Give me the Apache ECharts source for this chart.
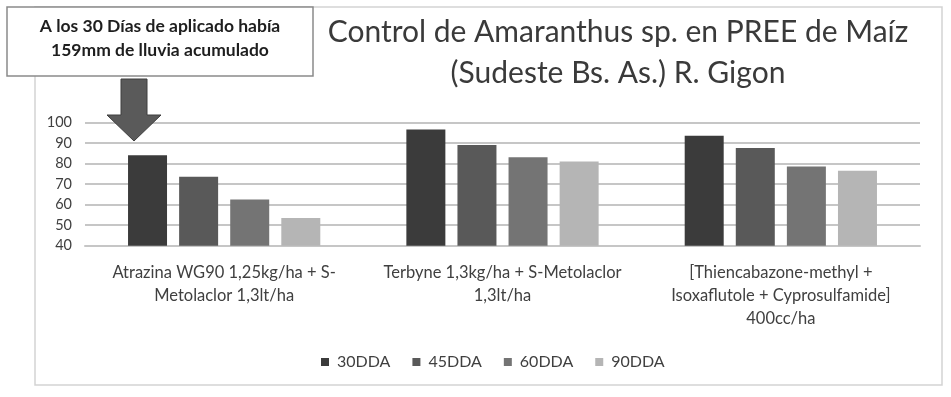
<!DOCTYPE html>
<html>
<head>
<meta charset="utf-8">
<script src="https://cdn.jsdelivr.net/npm/echarts@6/dist/echarts.min.js"></script>
<style>
html,body{margin:0;padding:0;background:#fff;}
#chart{width:951px;height:397px;}
</style>
</head>
<body>
<div id="chart"></div>
<script>
const categories = [
  'Atrazina WG90 1,25kg/ha + S-\nMetolaclor 1,3lt/ha',
  'Terbyne 1,3kg/ha + S-Metolaclor\n1,3lt/ha',
  '[Thiencabazone-methyl +\nIsoxaflutole + Cyprosulfamide]\n400cc/ha'
];
const seriesNames = ['30DDA', '45DDA', '60DDA', '90DDA'];
const dda30 = [84, 96.5, 93.5];
const dda45 = [73.5, 89, 87.5];
const dda60 = [62.5, 83, 78.5];
const dda90 = [53.5, 81, 76.5];
const yTicks = [40, 50, 60, 70, 80, 90, 100];
const titleText = 'Control de Amaranthus sp. en PREE de Maíz\n(Sudeste Bs. As.) R. Gigon';
const noteText = 'A los 30 Días de aplicado había\n159mm de lluvia acumulado';

const colors = ['#3b3b3b', '#595959', '#747474', '#b5b5b5'];
const values = [dda30, dda45, dda60, dda90];
const FONT = 'Lato';

const chart = echarts.init(document.getElementById('chart'));
chart.setOption({
  animation: false,
  backgroundColor: '#ffffff',
  grid: { left: 85, right: 31, top: 122.3, bottom: 151.3 },
  legend: {
    data: seriesNames,
    left: 316, top: 349,
    icon: 'rect', itemWidth: 8, itemHeight: 8, itemGap: 22,
    textStyle: { fontFamily: FONT, fontSize: 16, color: '#404040', padding: [0,0,0,3] }
  },
  xAxis: {
    type: 'category',
    data: categories,
    axisLine: { show: true, lineStyle: { color: '#c6c6c6', width: 2 } },
    axisTick: { show: false },
    axisLabel: {
      interval: 0, margin: 15, lineHeight: 23,
      fontFamily: FONT, fontSize: 16.5, color: '#404040'
    }
  },
  yAxis: {
    type: 'value',
    min: yTicks[0], max: yTicks[yTicks.length - 1], interval: 10,
    axisLine: { show: false },
    axisTick: { show: false },
    splitLine: { lineStyle: { color: '#c6c6c6', width: 2 } },
    axisLabel: { margin: 13, fontFamily: FONT, fontSize: 14.5, color: '#404040' }
  },
  series: seriesNames.map((n, i) => ({
    name: n,
    type: 'bar',
    data: values[i],
    barWidth: 39,
    barGap: '31%',
    itemStyle: { color: colors[i] }
  })),
  graphic: [
    { type: 'rect', z: 0, shape: { x: 35, y: 7, width: 907, height: 378 },
      style: { fill: 'none', stroke: '#d3d3d3', lineWidth: 1.5 } },
    { type: 'rect', z: 10, shape: { x: 7, y: 7, width: 306, height: 69 },
      style: { fill: '#ffffff', stroke: '#8a8a8a', lineWidth: 1.5 } },
    { type: 'text', z: 11, x: 160, y: 38,
      style: { text: noteText, fill: '#1e1e1e', font: 'bold 17.5px ' + FONT,
               align: 'center', verticalAlign: 'middle', lineHeight: 24 } },
    { type: 'polygon', z: 10,
      shape: { points: [[121,79],[147,79],[147,115],[161,115],[134,141],[107,115],[121,115]] },
      style: { fill: '#5a5a5a', stroke: '#3e3e3e', lineWidth: 1 } },
    { type: 'text', z: 11, x: 618, y: 53,
      style: { text: titleText, fill: '#3a3a3a', font: '30px ' + FONT,
               align: 'center', verticalAlign: 'middle', lineHeight: 41 } }
  ]
});
</script>
</body>
</html>
